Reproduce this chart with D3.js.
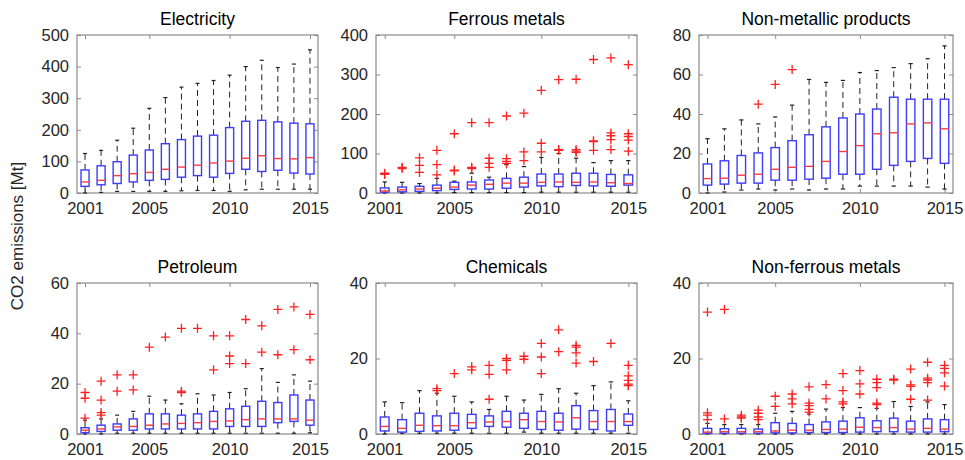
<!DOCTYPE html>
<html>
<head>
<meta charset="utf-8">
<script src="https://cdn.jsdelivr.net/npm/d3@7"></script>
<style>
  body { margin: 0; background: #fff; }
  text { font-family: "Liberation Sans", Arial, sans-serif; }
</style>
</head>
<body>
<div id="chart"></div>
<script>
const years = d3.range(2001, 2016);
const yearTicks = [2001, 2005, 2010, 2015];

// each row: [lower whisker, q1, median, q3, upper whisker]
const electricity = [
  [0, 21, 35, 73, 125], [2, 26, 40, 86, 135], [5, 30, 55, 99, 167], [5, 35, 61, 120, 205],
  [5, 40, 65, 136, 268], [5, 43, 75, 156, 302], [7, 50, 82, 169, 335], [8, 55, 88, 180, 347],
  [8, 50, 95, 183, 356], [5, 62, 101, 207, 373], [10, 75, 110, 227, 400], [12, 68, 118, 230, 420],
  [12, 72, 109, 225, 397], [12, 63, 108, 221, 408], [12, 60, 112, 219, 453]
];
const electricityOut = [[], [], [], [], [], [], [], [], [], [], [], [], [], [], []];

const ferrous = [
  [0, 2, 5, 13, 28], [0, 3, 8, 15, 27], [0, 4, 10, 17, 24], [0, 6, 12, 20, 37],
  [1, 9, 15, 27, 30], [1, 10, 20, 28, 50], [1, 10, 22, 33, 40], [1, 12, 25, 37, 72],
  [1, 15, 25, 40, 67], [2, 18, 27, 48, 90], [2, 16, 28, 48, 100], [2, 19, 27, 50, 88],
  [2, 18, 28, 50, 77], [2, 17, 26, 47, 82], [2, 20, 24, 46, 82]
];
const ferrousOut = [
  [47, 50], [62, 65], [52, 70, 89], [46, 72, 108], [56, 58, 150], [62, 65, 178],
  [65, 75, 88, 178], [75, 80, 87, 195], [82, 104, 202], [104, 126, 260], [108, 110, 287],
  [103, 106, 110, 288], [108, 130, 132, 338], [110, 135, 145, 152, 342], [106, 134, 143, 150, 325]
];

const nonMetallic = [
  [0, 4, 7.3, 14.7, 27.5], [0.5, 4.5, 7.5, 16.3, 32.5], [1.5, 5, 9, 19, 37], [2, 5, 9.5, 20.3, 35],
  [1.5, 6.5, 12, 23, 38.5], [2, 6.5, 13, 26.5, 44.5], [1.5, 7, 13.5, 29.5, 57.5], [2, 7.5, 16, 33.5, 56],
  [2, 9.5, 21, 38, 57], [3.5, 9.5, 24, 40, 61], [3.5, 12, 30, 42.5, 62], [3.5, 14, 30.5, 48.5, 63.5],
  [3.5, 16, 35, 47.5, 65.5], [3, 17.5, 35.5, 47.5, 68], [2, 15, 32.5, 47.5, 74.5]
];
const nonMetallicOut = [[], [], [], [45], [55], [62.5], [], [], [], [], [], [], [], [], []];

const petroleum = [
  [0, 0.5, 1.5, 2.5, 5.5], [0, 1, 2, 3.5, 6], [0.3, 1.5, 2.8, 4, 7.5], [0.3, 1.5, 3, 6, 9],
  [0.3, 2, 3.5, 8, 15], [0.3, 2, 4, 8, 13.5], [0.3, 2, 4.2, 7.5, 12], [0.3, 2, 4.5, 8, 16],
  [0.3, 2, 5, 9, 15.5], [0.3, 3, 5.2, 10, 16.5], [0.3, 3, 5.7, 11, 18], [0.3, 3, 6, 13, 26],
  [0.3, 4.5, 6, 12.5, 20.5], [0.3, 5, 6, 15.5, 23.5], [0.5, 3.5, 5.5, 13.5, 21]
];
const petroleumOut = [
  [6.3, 14.2, 16.5], [7.5, 8.5, 13.5, 21], [17, 23.5], [17.5, 23.5], [34.5], [38.5],
  [16.5, 17, 42], [42], [25.5, 39], [28, 31, 39], [28, 45.5], [32.5, 43], [31.5, 49.5],
  [33.5, 50.5], [29.5, 47.5]
];

const chemicals = [
  [0, 0.8, 2, 4.5, 8.5], [0.2, 0.5, 1.5, 3.8, 8.3], [0.2, 0.7, 2.3, 5.5, 11.5], [0.2, 0.8, 2.2, 4.8, 10.8],
  [0.2, 1, 2.2, 5.5, 10], [0.2, 1.5, 3, 5.2, 8.5], [0.2, 2, 3.2, 4.8, 6.5], [0.2, 1.8, 3.3, 6, 10],
  [0.5, 1.5, 3.8, 5.5, 9], [0.2, 1.2, 3.3, 6, 10.5], [0.2, 1, 3.2, 5.5, 12], [0.2, 1.3, 4.3, 7.5, 10.8],
  [0.2, 1.2, 3.3, 6.2, 12.8], [0.2, 0.8, 3.3, 6.5, 13.8], [0.2, 2.3, 3.3, 5.3, 8.8]
];
const chemicalsOut = [
  [], [], [], [11.5, 12], [16], [17, 17.8], [9.2, 15.8, 18.2], [17, 19.5, 20], [19.8, 20.6],
  [16, 20.4, 24], [21.8, 27.6], [18.8, 21.5, 23, 23.5], [19.2], [24], [12.8, 13.2, 14.2, 15.4, 18.2]
];

const nonFerrous = [
  [0, 0.2, 0.5, 1.5, 2.8], [0, 0.2, 0.6, 1.4, 2.5], [0, 0.2, 0.6, 1.5, 2.5], [0, 0.2, 0.6, 1.3, 2.5],
  [0, 0.3, 0.8, 3, 5.5], [0, 0.3, 1, 2.8, 6], [0, 0.4, 1, 2.5, 5.3], [0, 0.4, 1.2, 3.2, 6.6],
  [0, 0.4, 1.3, 3.4, 7], [0, 0.5, 1.8, 4.3, 7], [0, 0.6, 1.7, 3.5, 6.8], [0, 0.6, 1.7, 4.2, 8.6],
  [0, 0.5, 1.3, 3.4, 7.3], [0, 0.5, 1.5, 4, 8.5], [0, 0.6, 1.3, 3.8, 7.8]
];
const nonFerrousOut = [
  [3.8, 5, 5.6, 32.3], [4, 33], [4.2, 4.5, 5], [3.8, 4.5, 5.5, 6.3], [7.3, 10], [8, 9.3, 10.6],
  [5.8, 6.5, 7.5, 8.2, 12.5], [9.3, 13.1], [8, 8.5, 11.5, 16], [10.6, 13.3, 16.8],
  [7.8, 8.2, 12.3, 13.6, 14.5], [14.3, 14.5], [9.2, 12.6, 13, 17.2], [9, 13.6, 14.3, 14.8, 19],
  [12.7, 16.2, 17.4, 18.2]
];

const panels = [
  { title: "Electricity", stats: electricity, out: electricityOut, yMax: 500, yTicks: [0, 100, 200, 300, 400, 500], col: 0, row: 0 },
  { title: "Ferrous metals", stats: ferrous, out: ferrousOut, yMax: 400, yTicks: [0, 100, 200, 300, 400], col: 1, row: 0 },
  { title: "Non-metallic products", stats: nonMetallic, out: nonMetallicOut, yMax: 80, yTicks: [0, 20, 40, 60, 80], col: 2, row: 0 },
  { title: "Petroleum", stats: petroleum, out: petroleumOut, yMax: 60, yTicks: [0, 20, 40, 60], col: 0, row: 1 },
  { title: "Chemicals", stats: chemicals, out: chemicalsOut, yMax: 40, yTicks: [0, 20, 40], col: 1, row: 1 },
  { title: "Non-ferrous metals", stats: nonFerrous, out: nonFerrousOut, yMax: 40, yTicks: [0, 20, 40], col: 2, row: 1 }
];

const colLeft = [77, 376, 699];
const colRight = [318, 637, 953];
const rowTop = [35, 283];
const rowBottom = [193, 434];

const svg = d3.select("#chart").append("svg")
  .attr("width", 965)
  .attr("height", 460);

const axisColor = "#8a8a8a";
const textColor = "#262626";
const boxBlue = "#3c3cff";
const medRed = "#ff3c3c";

panels.forEach(p => {
  const left = colLeft[p.col], right = colRight[p.col];
  const top = rowTop[p.row], bottom = rowBottom[p.row];
  const w = right - left, h = bottom - top;

  const g = svg.append("g").attr("transform", `translate(${left},${top})`);

  const x = d3.scaleLinear().domain([2000.5, 2015.5]).range([0, w]);
  const y = d3.scaleLinear().domain([0, p.yMax]).range([h, 0]);
  const step = x(2002) - x(2001);
  const boxW = step * 0.5;
  const capW = step * 0.25;

  // axes with inward ticks, mirrored on all sides
  const styleAxis = sel => {
    sel.select(".domain").remove();
    sel.selectAll(".tick line").attr("stroke", axisColor);
    sel.selectAll(".tick text")
      .attr("fill", textColor)
      .style("font-size", "16.5px");
  };

  g.append("g")
    .attr("transform", `translate(0,${h})`)
    .call(d3.axisBottom(x).tickValues(yearTicks).tickFormat(d3.format("d")).tickSizeInner(-4).tickPadding(9))
    .call(styleAxis);
  g.append("g")
    .call(d3.axisTop(x).tickValues(yearTicks).tickSizeInner(-4).tickFormat(""))
    .call(styleAxis);
  g.append("g")
    .call(d3.axisLeft(y).tickValues(p.yTicks).tickSizeInner(-4).tickPadding(8))
    .call(styleAxis);
  g.append("g")
    .attr("transform", `translate(${w},0)`)
    .call(d3.axisRight(y).tickValues(p.yTicks).tickSizeInner(-4).tickFormat(""))
    .call(styleAxis);

  g.append("rect")
    .attr("x", 0).attr("y", 0).attr("width", w).attr("height", h)
    .attr("fill", "none").attr("stroke", axisColor).attr("stroke-width", 1.2);

  const items = g.selectAll(".box").data(p.stats.map((s, i) => ({ year: years[i], s, out: p.out[i] })))
    .join("g").attr("class", "box");

  // whiskers
  items.append("line")
    .attr("x1", d => x(d.year)).attr("x2", d => x(d.year))
    .attr("y1", d => y(d.s[3])).attr("y2", d => y(d.s[4]))
    .attr("stroke", "#222").attr("stroke-dasharray", "6,4");
  items.append("line")
    .attr("x1", d => x(d.year)).attr("x2", d => x(d.year))
    .attr("y1", d => y(d.s[1])).attr("y2", d => y(d.s[0]))
    .attr("stroke", "#222").attr("stroke-dasharray", "6,4");
  // caps
  [0, 4].forEach(k => {
    items.append("line")
      .attr("x1", d => x(d.year) - capW / 2).attr("x2", d => x(d.year) + capW / 2)
      .attr("y1", d => y(d.s[k])).attr("y2", d => y(d.s[k]))
      .attr("stroke", "#222").attr("stroke-width", 1.2);
  });
  // boxes
  items.append("rect")
    .attr("x", d => x(d.year) - boxW / 2)
    .attr("y", d => y(d.s[3]))
    .attr("width", boxW)
    .attr("height", d => y(d.s[1]) - y(d.s[3]))
    .attr("fill", "none").attr("stroke", boxBlue).attr("stroke-width", 1.4);
  // medians
  items.append("line")
    .attr("x1", d => x(d.year) - boxW / 2).attr("x2", d => x(d.year) + boxW / 2)
    .attr("y1", d => y(d.s[2])).attr("y2", d => y(d.s[2]))
    .attr("stroke", medRed).attr("stroke-width", 1.4);

  // outliers as red plus signs
  const pts = p.out.flatMap((arr, i) => arr.map(v => ({ year: years[i], v })));
  g.selectAll(".out").data(pts).join("path")
    .attr("class", "out")
    .attr("transform", d => `translate(${x(d.year)},${y(d.v)})`)
    .attr("d", "M-4.5,0H4.5M0,-4.5V4.5")
    .attr("stroke", "#ff2020").attr("stroke-width", 1.3).attr("fill", "none");

  svg.append("text")
    .attr("x", left + w / 2)
    .attr("y", top - 10)
    .attr("text-anchor", "middle")
    .attr("fill", "#000")
    .style("font-size", "17.5px")
    .text(p.title);
});

svg.append("text")
  .attr("transform", "translate(23,236) rotate(-90)")
  .attr("text-anchor", "middle")
  .attr("fill", textColor)
  .style("font-size", "17px")
  .text("CO2 emissions [Mt]");
</script>
</body>
</html>
